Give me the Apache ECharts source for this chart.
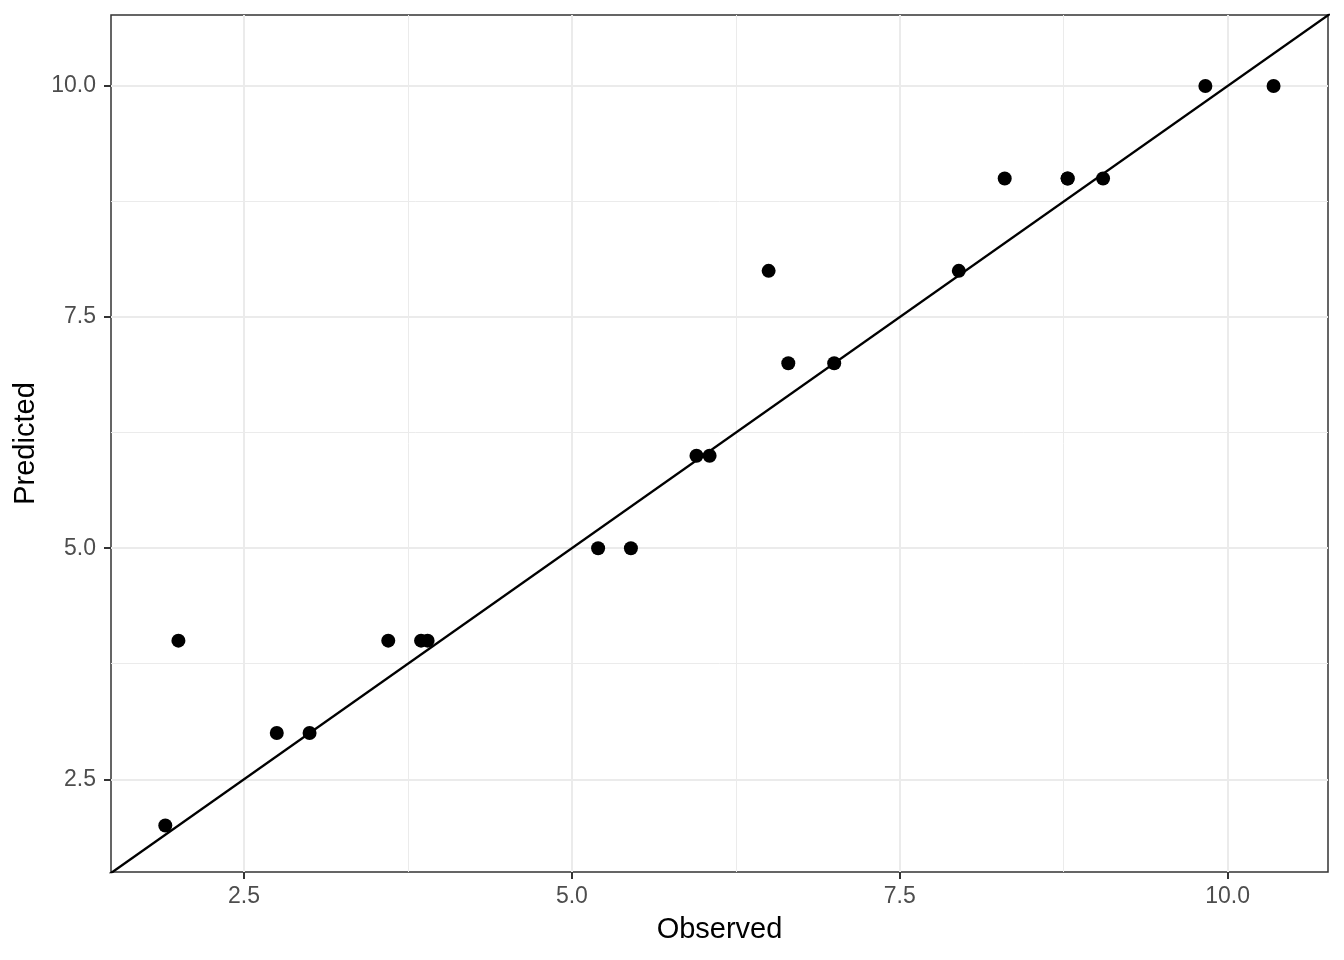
<!DOCTYPE html>
<html>
<head>
<meta charset="utf-8">
<script src="https://cdn.jsdelivr.net/npm/echarts@6/dist/echarts.min.js"></script>
<style>html,body{margin:0;padding:0;background:#fff}#c{width:1344px;height:960px}</style>
</head>
<body>
<div id="c"></div>
<script>
const observed  = [1.90, 2.00, 2.75, 3.00, 3.60, 3.85, 3.90, 5.20, 5.45, 5.95, 6.05, 6.50, 6.65, 7.00, 7.95, 8.30, 8.78, 8.78, 9.05, 9.83, 10.35];
const predicted = [2, 4, 3, 3, 4, 4, 4, 5, 5, 6, 6, 8, 7, 7, 8, 9, 9, 9, 9, 10, 10];
const majorTicks = [2.5, 5.0, 7.5, 10.0];
const minorTicks = [3.75, 6.25, 8.75];
const xRange = [1.486, 10.765];
const yRange = [1.497, 10.768];
const refLine = [1.40, 10.85];

const chart = echarts.init(document.getElementById('c'));
const points = observed.map((x, i) => [x, predicted[i]]);
const FONT = 'Liberation Sans';

function axis(range, name, isX) {
  return {
    type: 'value', min: range[0], max: range[1],
    name: name, nameLocation: 'middle', nameGap: isX ? 43 : 66,
    nameTextStyle: { color: '#000', fontSize: 29, fontFamily: FONT },
    axisLine: { show: false },
    axisTick: { show: true, customValues: majorTicks, length: 7, lineStyle: { color: '#333', width: 2 } },
    axisLabel: { customValues: majorTicks, color: '#4d4d4d', fontSize: 23, fontFamily: FONT,
                 margin: isX ? 13 : 15, formatter: v => v.toFixed(1) },
    splitLine: { show: false }
  };
}

const gridLines = (vals, width) => [].concat(
  vals.map(v => ({ xAxis: v, lineStyle: { color: '#ebebeb', width: width, type: 'solid' } })),
  vals.map(v => ({ yAxis: v, lineStyle: { color: '#ebebeb', width: width, type: 'solid' } }))
);

chart.setOption({
  animation: false,
  backgroundColor: '#fff',
  grid: { left: 111, top: 15, width: 1217, height: 857, show: true, borderColor: '#333', borderWidth: 1.5, backgroundColor: 'transparent' },
  xAxis: axis(xRange, 'Observed', true),
  yAxis: axis(yRange, 'Predicted', false),
  series: [
    { type: 'line', data: [], silent: true, z: 1,
      markLine: { z: 1, silent: true, symbol: 'none', label: { show: false }, animation: false,
                  data: gridLines(minorTicks, 1).concat(gridLines(majorTicks, 2)) } },
    { type: 'line', data: [[refLine[0], refLine[0]], [refLine[1], refLine[1]]], clip: true, z: 6,
      symbol: 'none', lineStyle: { color: '#000', width: 2.4 } },
    { type: 'scatter', data: points, z: 7, symbolSize: 14, itemStyle: { color: '#000', opacity: 1 } }
  ]
});
</script>
</body>
</html>
